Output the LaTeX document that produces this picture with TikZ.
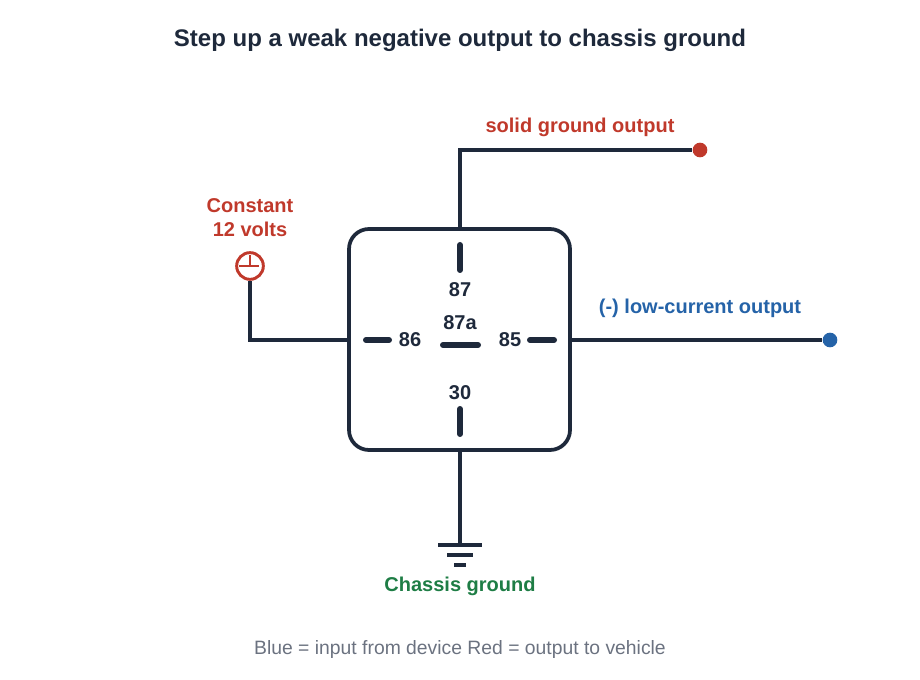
\documentclass[tikz,border=0pt]{standalone}
\usepackage{fontspec}
\setmainfont{Liberation Sans}
\usetikzlibrary{positioning}
\definecolor{navy}{HTML}{1E293B}
\definecolor{wred}{HTML}{C0392B}
\definecolor{wblue}{HTML}{2563A8}
\definecolor{wgreen}{HTML}{1E7D45}
\definecolor{foot}{HTML}{6B7280}
\begin{document}
\begin{tikzpicture}[x=0.75pt,y=-0.75pt,
	wire/.style={line width=2.6pt,draw=navy},
	pin/.style={line width=4.5pt,draw=navy,line cap=round},
	pinlbl/.style={font=\bfseries\fontsize{15}{18}\selectfont,text=navy},
	lbl/.style={font=\bfseries\fontsize{15}{18}\selectfont,align=center}]
	\useasboundingbox (0,0) rectangle (920,680);
	\node[font=\bfseries\fontsize{18}{22}\selectfont,text=navy] (title) at (460,40) {Step up a weak negative output to chassis ground};
	% relay body
	\draw[line width=2.8pt,draw=navy,rounded corners=15pt] (349,229) rectangle (570,450);
	\coordinate (top) at (460,229);
	\coordinate (left) at (349,340);
	\coordinate (right) at (570,340);
	\coordinate (bot) at (460,450);
	% pins
	\draw[pin] (460,245) -- (460,270);
	\draw[pin] (443,345) -- (478,345);
	\draw[pin] (366,340) -- (389,340);
	\draw[pin] (530,340) -- (554,340);
	\draw[pin] (460,409) -- (460,434);
	\node[pinlbl] (p87) at (460,290) {87};
	\node[pinlbl] (p87a) at (460,323) {87a};
	\node[pinlbl] (p86) at (410,340) {86};
	\node[pinlbl] (p85) at (510,340) {85};
	\node[pinlbl] (p30) at (460,393) {30};
	% output to vehicle
	\node[circle,fill=wred,inner sep=0pt,minimum size=11pt] (out) at (700,150) {};
	\draw[wire] (top) |- (out);
	\node[lbl,text=wred] (outlbl) at (580,127) {solid ground output};
	% constant 12 volts
	\node[circle,draw=wred,line width=2.2pt,fill=white,inner sep=0pt,minimum size=20pt] (plus) at (250,266) {};
	\draw[line width=2.2pt,draw=wred] (plus.north) ++(0,4) -- ++(0,12);
	\draw[line width=2.2pt,draw=wred] (plus.west) ++(4,0) -- ++(20,0);
	\draw[wire] (left) -| (plus.south);
	\node[lbl,text=wred] (vlbl) at (250,218) {Constant\\12 volts};
	% input from device
	\node[circle,fill=wblue,inner sep=0pt,minimum size=11pt] (in) at (830,340) {};
	\draw[wire] (right) -- (in);
	\node[lbl,text=wblue] (inlbl) at (700,308) {(-) low-current output};
	% chassis ground
	\coordinate (gnd) at (460,545);
	\draw[wire] (bot) -- (gnd);
	\draw[wire] (438,545) -- (482,545);
	\draw[wire] (447,555) -- (473,555);
	\draw[wire] (454,565) -- (466,565);
	\node[lbl,text=wgreen] (gndlbl) at (460,586) {Chassis ground};
	\node[font=\fontsize{14.5}{17}\selectfont,text=foot] (legend) at (460,649) {Blue = input from device Red = output to vehicle};
\end{tikzpicture}
\end{document}
